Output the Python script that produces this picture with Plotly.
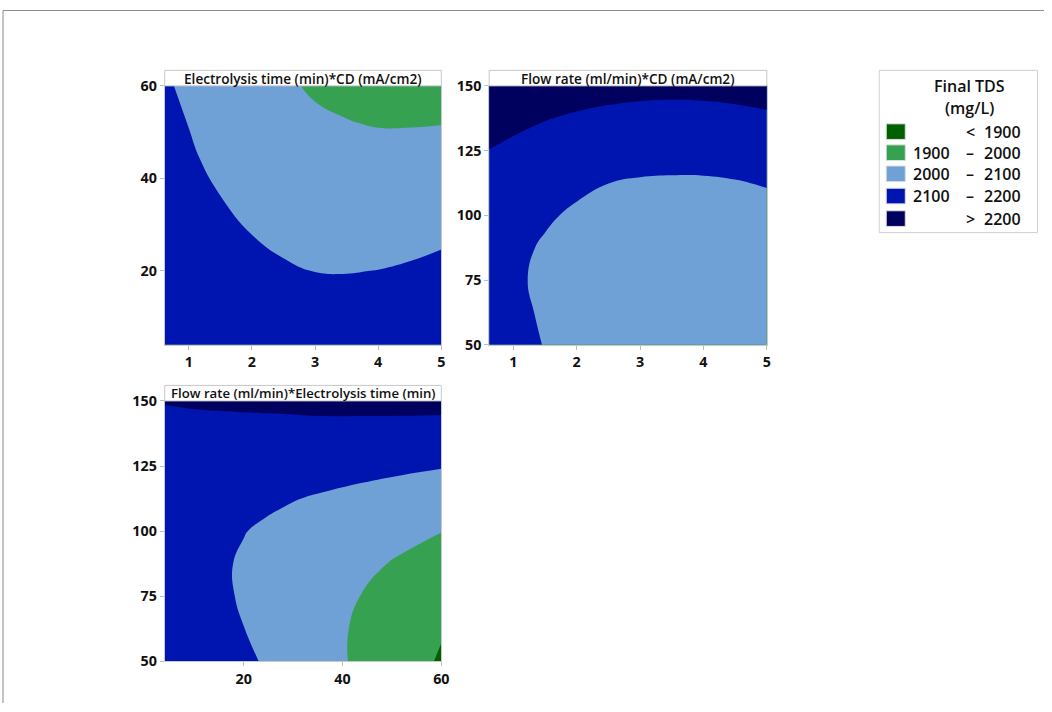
import plotly.graph_objects as go

W, H = 1052, 712

# ---------------- data ----------------
levels = [1900, 2000, 2100, 2200]
band_colors = ["#006000", "#36A150", "#6FA0D6", "#0014AF", "#00005E"]

# Panel 1: CD (x) vs Electrolysis time (y)
cd_grid = [0.62, 1, 1.5, 2, 2.5, 3, 3.5, 4, 4.5, 5]
time_grid1 = [4, 12, 20, 28, 36, 44, 52, 60]
tds_time_cd = [
    [2186.2, 2174.2, 2161.9, 2153.5, 2149.1, 2148.6, 2152.1, 2159.5, 2170.9, 2186.2],
    [2171.6, 2157.9, 2143.3, 2132.6, 2125.9, 2123.2, 2124.4, 2129.5, 2138.6, 2151.7],
    [2158.2, 2142.8, 2125.9, 2115.0, 2107.0, 2099.0, 2097.9, 2100.8, 2107.6, 2118.4],
    [2146.2, 2129.0, 2112.8, 2099.6, 2086.4, 2076.1, 2072.7, 2073.3, 2077.9, 2086.4],
    [2135.4, 2119.5, 2100.5, 2081.6, 2066.1, 2054.5, 2048.9, 2047.2, 2049.5, 2055.7],
    [2126.0, 2108.3, 2085.6, 2064.9, 2046.1, 2034.2, 2026.3, 2022.4, 2022.4, 2026.3],
    [2118.0, 2098.6, 2072.6, 2047.6, 2029.5, 2015.4, 2002.0, 1996.5, 1996.7, 1998.4],
    [2108.0, 2087.0, 2058.8, 2034.5, 2014.1, 1988.5, 1985.3, 1976.8, 1972.2, 1971.6],
]

# Panel 2: CD (x) vs Flow rate (y)
flow_grid = [50, 62.5, 75, 87.5, 100, 112.5, 125, 137.5, 150]
tds_flow_cd = [
    [2140.2, 2120.4, 2097.9, 2079.3, 2064.7, 2054.1, 2047.3, 2044.6, 2045.8, 2050.9],
    [2133.7, 2114.4, 2092.5, 2074.5, 2060.5, 2050.4, 2044.3, 2042.1, 2043.9, 2049.6],
    [2128.6, 2109.7, 2088.4, 2071.0, 2057.6, 2048.1, 2042.6, 2041.0, 2043.4, 2049.7],
    [2132.6, 2114.2, 2093.5, 2076.7, 2063.8, 2054.9, 2050.0, 2049.0, 2052.0, 2058.9],
    [2145.6, 2127.6, 2107.5, 2091.3, 2079.1, 2070.8, 2066.4, 2066.0, 2069.6, 2077.1],
    [2167.7, 2150.2, 2130.6, 2112.0, 2100.4, 2093.7, 2091.9, 2092.1, 2096.2, 2104.3],
    [2198.7, 2181.7, 2162.7, 2147.7, 2136.6, 2129.5, 2126.4, 2127.2, 2131.9, 2140.6],
    [2238.9, 2222.3, 2203.9, 2189.5, 2179.0, 2172.5, 2169.9, 2171.3, 2176.7, 2185.9],
    [2288.1, 2272.0, 2254.2, 2240.4, 2230.5, 2224.6, 2222.6, 2224.6, 2230.5, 2240.4],
]

# Panel 3: Electrolysis time (x) vs Flow rate (y)
time_grid3 = [4, 12, 16, 20, 24, 28, 36, 44, 52, 60]
tds_flow_time = [
    [2190.0, 2159.1, 2137.8, 2116.4, 2094.8, 2073.0, 2028.7, 1983.7, 1937.8, 1891.2],
    [2172.7, 2137.2, 2119.0, 2100.8, 2082.2, 2063.6, 2025.5, 1986.7, 1947.1, 1906.8],
    [2152.6, 2123.3, 2108.3, 2093.1, 2077.7, 2062.2, 2030.4, 1997.8, 1964.5, 1930.4],
    [2140.4, 2117.4, 2105.5, 2093.5, 2081.2, 2068.8, 2043.2, 2016.9, 1989.8, 1961.9],
    [2136.3, 2119.5, 2110.7, 2101.8, 2092.7, 2083.4, 2064.1, 2044.0, 2023.1, 2001.5],
    [2140.2, 2129.6, 2124.0, 2118.2, 2112.1, 2106.0, 2092.9, 2079.1, 2064.5, 2049.1],
    [2152.0, 2147.7, 2145.2, 2142.5, 2139.6, 2136.6, 2129.8, 2122.2, 2113.8, 2104.7],
    [2171.9, 2173.9, 2174.4, 2174.9, 2175.1, 2175.2, 2174.6, 2173.3, 2171.1, 2168.3],
    [2204.0, 2210.2, 2212.0, 2213.6, 2215.0, 2216.5, 2222.0, 2223.1, 2224.2, 2224.1],
]

panel_titles = [
    "Electrolysis time (min)*CD (mA/cm2)",
    "Flow rate (ml/min)*CD (mA/cm2)",
    "Flow rate (ml/min)*Electrolysis time (min)",
]
cd_ticks = [1, 2, 3, 4, 5]
time_ticks_y = [20, 40, 60]
time_ticks_x = [20, 40, 60]
flow_ticks = [50, 75, 100, 125, 150]

legend_title = ["Final TDS", "(mg/L)"]

# ---------------- helpers ----------------
# target pixel positions (as seen in the reference) -> paper coordinates,
# corrected for the slight scaling seen in the rendered page
SX, SY, OY = 0.991, 0.9716, 9.77

def fx(p):
    return (p / SX) / W

def fy(p):
    return 1 - ((p - OY) / SY) / H

FONT = "Open Sans"
colorscale = [[i / (len(band_colors) - 1), c] for i, c in enumerate(band_colors)]
step = levels[1] - levels[0]

def contour(x, y, z, xa, ya):
    return go.Contour(
        x=x, y=y, z=z, xaxis=xa, yaxis=ya,
        autocontour=False,
        contours=dict(start=levels[0], end=levels[-1], size=step,
                      coloring="fill", showlines=False),
        colorscale=colorscale, showscale=False,
        line=dict(width=0, smoothing=1.3),
        hoverinfo="skip",
    )

fig = go.Figure()
fig.add_trace(contour(cd_grid, time_grid1, tds_time_cd, "x", "y"))
fig.add_trace(contour(cd_grid, flow_grid, tds_flow_cd, "x2", "y2"))
fig.add_trace(contour(time_grid3, flow_grid, tds_flow_time, "x3", "y3"))

# panel geometry in (reference) pixels: left, right, top, bottom
P1 = (164.5, 440.7, 85.5, 344.0)
P2 = (488.5, 765.7, 85.5, 344.0)
P3 = (164.5, 440.7, 400.0, 660.0)

tickfont = dict(family=FONT, size=14.3, color="#111111", weight="bold")

def axis(dom, rng, ticks, anchor):
    return dict(domain=dom, range=rng, tickvals=ticks, ticks="outside",
                ticklen=4, tickcolor="#bdbdbd", showline=True,
                linecolor="#c8c8c8", linewidth=1, mirror=True,
                showgrid=False, zeroline=False, tickfont=tickfont,
                fixedrange=True, anchor=anchor)

fig.update_layout(
    width=W, height=H, margin=dict(l=0, r=0, t=0, b=0),
    paper_bgcolor="white", plot_bgcolor="white", showlegend=False,
    xaxis=axis([fx(P1[0]), fx(P1[1])], [cd_grid[0], cd_grid[-1]], cd_ticks, "y"),
    yaxis=axis([fy(P1[3]), fy(P1[2])], [time_grid1[0], time_grid1[-1]], time_ticks_y, "x"),
    xaxis2=axis([fx(P2[0]), fx(P2[1])], [cd_grid[0], cd_grid[-1]], cd_ticks, "y2"),
    yaxis2=axis([fy(P2[3]), fy(P2[2])], [flow_grid[0], flow_grid[-1]], flow_ticks, "x2"),
    xaxis3=axis([fx(P3[0]), fx(P3[1])], [time_grid3[0], time_grid3[-1]], time_ticks_x, "y3"),
    yaxis3=axis([fy(P3[3]), fy(P3[2])], [flow_grid[0], flow_grid[-1]], flow_ticks, "x3"),
)

shapes = []
annotations = []

# outer frame (top and left lines)
top_line = min(fy(9.5), 1 - 0.5 / H)
shapes.append(dict(type="line", xref="paper", yref="paper", x0=fx(3), x1=1.0,
                   y0=top_line, y1=top_line, line=dict(color="#8a8a8a", width=1)))
shapes.append(dict(type="line", xref="paper", yref="paper", x0=fx(3), x1=fx(3),
                   y0=top_line, y1=0.0, line=dict(color="#8a8a8a", width=1)))

# panel title bars
title_sizes = [13.6, 13.6, 13.2]
for (x0, x1, top, bot), title, fs in zip([P1, P2, P3], panel_titles, title_sizes):
    shapes.append(dict(type="rect", xref="paper", yref="paper",
                       x0=fx(x0), x1=fx(x1), y0=fy(top), y1=fy(top - 15.5),
                       line=dict(color="#c8c8c8", width=1), fillcolor="white"))
    annotations.append(dict(xref="paper", yref="paper", x=fx((x0 + x1) / 2),
                            y=fy(top - 7.8), text=title, showarrow=False,
                            xanchor="center", yanchor="middle",
                            font=dict(family=FONT, size=fs, color="#111111",
                                      weight=600)))

# legend box
shapes.append(dict(type="rect", xref="paper", yref="paper",
                   x0=fx(878), x1=fx(1036), y0=fy(232), y1=fy(70),
                   line=dict(color="#d0d0d0", width=1), fillcolor="white"))
for txt, yy in zip(legend_title, [86, 108]):
    annotations.append(dict(xref="paper", yref="paper", x=fx(968), y=fy(yy),
                            text=txt, showarrow=False,
                            xanchor="center", yanchor="middle",
                            font=dict(family=FONT, size=16, color="#111111",
                                      weight=600)))

row_y = [131.2, 152.2, 173.3, 195.5, 218.0]
lefts = [""] + [str(v) for v in levels[:-1]] + [""]
syms = ["<"] + ["\u2013"] * (len(levels) - 1) + [">"]
rights = [str(levels[0])] + [str(v) for v in levels[1:]] + [str(levels[-1])]
lfont = dict(family=FONT, size=16, color="#111111", weight=600)
for i, yy in enumerate(row_y):
    shapes.append(dict(type="rect", xref="paper", yref="paper",
                       x0=fx(885), x1=fx(904), y0=fy(yy + 7.8), y1=fy(yy - 7.8),
                       line=dict(color="#dddddd", width=1), fillcolor=band_colors[i]))
    if lefts[i]:
        annotations.append(dict(xref="paper", yref="paper", x=fx(951), y=fy(yy),
                                text=lefts[i], showarrow=False, xanchor="right",
                                yanchor="middle", font=lfont))
    annotations.append(dict(xref="paper", yref="paper", x=fx(969), y=fy(yy),
                            text=syms[i], showarrow=False, xanchor="center",
                            yanchor="middle", font=lfont))
    annotations.append(dict(xref="paper", yref="paper", x=fx(1022), y=fy(yy),
                            text=rights[i], showarrow=False, xanchor="right",
                            yanchor="middle", font=lfont))

fig.update_layout(shapes=shapes, annotations=annotations)
fig.write_html("out.html")
